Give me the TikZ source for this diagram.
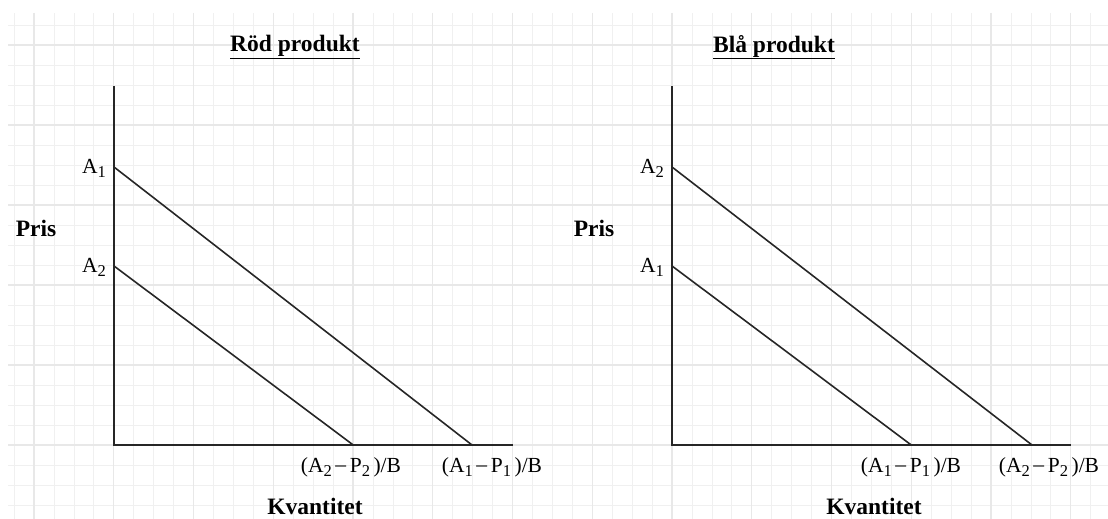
\documentclass[tikz,border=0pt]{standalone}
\usepackage{fontspec}
\setmainfont{Liberation Serif}
\newcommand{\sbx}[1]{\raisebox{-0.42ex}{\fontsize{16.5}{16.5}\selectfont #1}}
\newcommand{\qlab}[4]{(#1\sbx{#2}\,\raisebox{0.1ex}{–}\,#3\sbx{#4}\,)/B}
\begin{document}
\begin{tikzpicture}[x=1pt,y=-1pt,
  minorgrid/.style={draw=black!6,line width=0.7pt},
  majorgrid/.style={draw=black!9,line width=1.1pt},
  axisline/.style={draw=black!85,line width=1.9pt},
  demand/.style={draw=black!85,line width=1.6pt},
  titlelbl/.style={font=\fontsize{23.5}{26}\selectfont\bfseries,inner sep=0pt},
  axislbl/.style={font=\fontsize{23.5}{26}\selectfont\bfseries,inner sep=0pt},
  ptlbl/.style={font=\fontsize{21.5}{24}\selectfont,inner sep=0pt}]
\useasboundingbox (0,0) rectangle (1108,519);
% grid
\foreach \k in {0,...,54} {
  \pgfmathsetmacro{\gx}{14.06+19.9375*\k}
  \draw[minorgrid] (\gx,13) -- (\gx,519);
}
\foreach \k in {0,...,25} {
  \pgfmathsetmacro{\gy}{25+20*\k}
  \draw[minorgrid] (8,\gy) -- (1108,\gy);
}
\foreach \k in {0,...,13} {
  \pgfmathsetmacro{\gx}{34+79.75*\k}
  \draw[majorgrid] (\gx,13) -- (\gx,519);
}
\foreach \k in {0,...,5} {
  \pgfmathsetmacro{\gy}{45+80*\k}
  \draw[majorgrid] (8,\gy) -- (1108,\gy);
}
% left chart
\coordinate (Ltop) at (114,86);
\coordinate (Lo) at (114,445);
\coordinate (Lend) at (513,445);
\coordinate (LA1) at (114,167);
\coordinate (LA2) at (114,266);
\coordinate (LQ1) at (472,445);
\coordinate (LQ2) at (353.25,445);
\draw[axisline] (Ltop) -- (Lo) -- (Lend);
\draw[demand] (LA1) -- (LQ1);
\draw[demand] (LA2) -- (LQ2);
\node[titlelbl] (Ltitle) at (295,47) {\underline{Röd produkt}};
\node[axislbl] (Lpris) at (36,228) {Pris};
\node[axislbl] (Lkv) at (315,506) {Kvantitet};
\node[ptlbl,anchor=east] (LlA1) at (106,168) {A\sbx{1}};
\node[ptlbl,anchor=east] (LlA2) at (106,267) {A\sbx{2}};
\node[ptlbl] (LlQ2) at (351,467) {\qlab{A}{2}{P}{2}};
\node[ptlbl] (LlQ1) at (492,467) {\qlab{A}{1}{P}{1}};
% right chart
\coordinate (Rtop) at (672,86);
\coordinate (Ro) at (672,445);
\coordinate (Rend) at (1071,445);
\coordinate (RA2) at (672,167);
\coordinate (RA1) at (672,266);
\coordinate (RQ2) at (1032,445);
\coordinate (RQ1) at (911.25,445);
\draw[axisline] (Rtop) -- (Ro) -- (Rend);
\draw[demand] (RA2) -- (RQ2);
\draw[demand] (RA1) -- (RQ1);
\node[titlelbl] (Rtitle) at (774,47) {\underline{Blå produkt}};
\node[axislbl] (Rpris) at (594,228) {Pris};
\node[axislbl] (Rkv) at (874,506) {Kvantitet};
\node[ptlbl,anchor=east] (RlA2) at (664,168) {A\sbx{2}};
\node[ptlbl,anchor=east] (RlA1) at (664,267) {A\sbx{1}};
\node[ptlbl] (RlQ1) at (911,467) {\qlab{A}{1}{P}{1}};
\node[ptlbl] (RlQ2) at (1049,467) {\qlab{A}{2}{P}{2}};
\end{tikzpicture}
\end{document}
